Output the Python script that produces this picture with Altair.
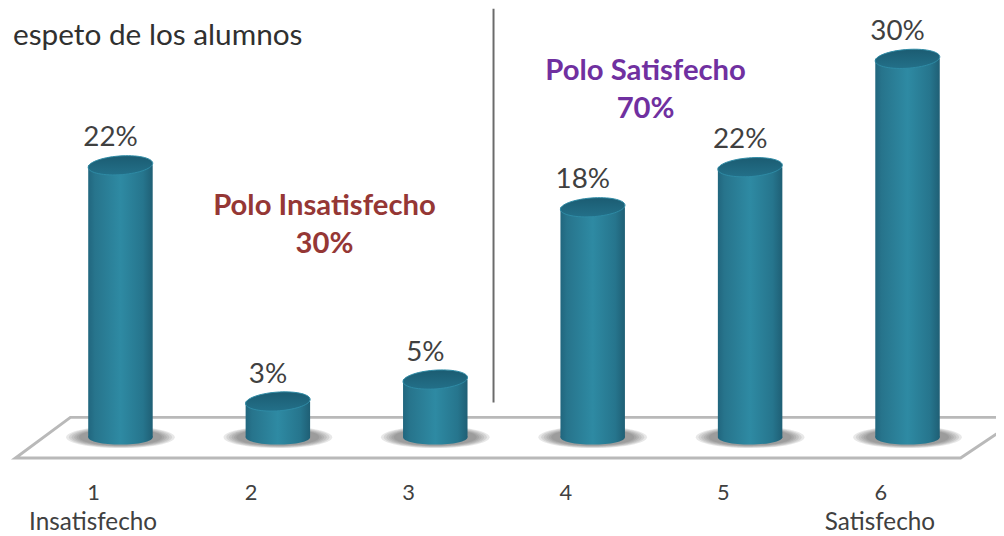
import altair as alt
import pandas as pd

# Data
categories = [1, 2, 3, 4, 5, 6]
bar_heights = [21.7, 2.85, 4.6, 18.35, 21.55, 30.2]
bar_labels = ["22%", "3%", "5%", "18%", "22%", "30%"]
tick_labels = ["1", "2", "3", "4", "5", "6"]
tick_pos = [0.83, 1.83, 2.83, 3.83, 4.83, 5.83]
pole_names = ["Insatisfecho", "Satisfecho"]
pole_pos = [0.826, 5.825]
pole_y = [-6.85, -6.85]
floor_x = [6.66, 0.682, 0.333, 6.337, 6.66]
floor_y = [1.58, 1.58, -1.66, -1.66, 1.05]
floor_order = [0, 1, 2, 3, 4]
divider_x = [3.37]
divider_y = [34.2]
divider_y2 = [2.77]
notes_red = ["Polo Insatisfecho", "30%"]
notes_red_x = [2.296, 2.296]
notes_red_y = [18.45, 15.45]
notes_purple = ["Polo Satisfecho", "70%"]
notes_purple_x = [4.336, 4.336]
notes_purple_y = [29.2, 26.2]
heading = ["espeto de los alumnos"]
heading_x = [0.3171]
heading_y = [32.0]
shadow_sizes = [12000, 10800, 9700, 8700, 7800, 7000]

FONT = "Lato"
XS = alt.Scale(domain=[0.3171, 6.5306], nice=False, zero=False)
YS = alt.Scale(domain=[-7.72, 34.09], nice=False, zero=False)


def X(f="x"):
    return alt.X(f"{f}:Q", scale=XS, axis=None)


def Y(f="y"):
    return alt.Y(f"{f}:Q", scale=YS, axis=None)


side = alt.LinearGradient(
    gradient="linear", x1=0, x2=1, y1=0, y2=0,
    stops=[
        alt.GradientStop(color="#21667e", offset=0),
        alt.GradientStop(color="#27748c", offset=0.1),
        alt.GradientStop(color="#2e8aa3", offset=0.5),
        alt.GradientStop(color="#26758d", offset=0.85),
        alt.GradientStop(color="#1f5f75", offset=1),
    ],
)
cap = alt.LinearGradient(
    gradient="linear", x1=0, x2=0, y1=0, y2=1,
    stops=[
        alt.GradientStop(color="#1b5c72", offset=0),
        alt.GradientStop(color="#237089", offset=1),
    ],
)

bars = pd.DataFrame({"x": categories, "h": bar_heights, "label": bar_labels, "zero": [0] * 6})

floor = alt.Chart(pd.DataFrame({"x": floor_x, "y": floor_y, "o": floor_order})).mark_line(
    color="#b9b9b9", strokeWidth=3, strokeJoin="miter"
).encode(x=X(), y=Y(), order="o:Q")

shadows = [
    alt.Chart(bars).mark_point(
        shape="M-1,0 A1,0.2 0 1 0 1,0 A1,0.2 0 1 0 -1,0 Z",
        size=s, filled=True, fill="#5a5a5a", opacity=0.14, strokeWidth=0,
    ).encode(x=X(), y=Y("zero"))
    for s in shadow_sizes
]

bottom = alt.Chart(bars).mark_point(
    shape="M-1,0 A1,0.23 0 1 0 1,0 A1,0.23 0 1 0 -1,0 Z", size=4225, filled=True, fill=side, opacity=1, strokeWidth=0
).encode(x=X(), y=Y("zero"))

body = alt.Chart(bars).mark_bar(size=65, fill=side).encode(x=X(), y=Y("h"), y2="zero:Q")

top = alt.Chart(bars).mark_point(
    shape="M-1,0.05 A1,0.29 -4 1 1 1,-0.05 A1,0.29 -4 1 1 -1,0.05 Z", size=4225, filled=True, fill=cap, opacity=1,
    stroke="#2f8ba5", strokeWidth=1,
).encode(x=X(), y=Y("h"))

values = alt.Chart(bars).mark_text(font=FONT, fontSize=28, color="#404040", dy=-27, dx=-10).encode(
    x=X(), y=Y("h"), text="label:N"
)

ticks = alt.Chart(pd.DataFrame({"x": tick_pos, "y": [-4.5] * 6, "t": tick_labels})).mark_text(
    font=FONT, fontSize=22, color="#404040"
).encode(x=X(), y=Y(), text="t:N")

poles = alt.Chart(pd.DataFrame({"x": pole_pos, "y": pole_y, "t": pole_names})).mark_text(
    font=FONT, fontSize=24.5, color="#404040"
).encode(x=X(), y=Y(), text="t:N")

divider = alt.Chart(pd.DataFrame({"x": divider_x, "y": divider_y, "y2": divider_y2})).mark_rule(
    color="#6b6b6b", strokeWidth=2
).encode(x=X(), y=Y(), y2="y2:Q")

red = alt.Chart(pd.DataFrame({"x": notes_red_x, "y": notes_red_y, "t": notes_red})).mark_text(
    font=FONT, fontSize=29.5, fontWeight="bold", color="#953735"
).encode(x=X(), y=Y(), text="t:N")

purple = alt.Chart(pd.DataFrame({"x": notes_purple_x, "y": notes_purple_y, "t": notes_purple})).mark_text(
    font=FONT, fontSize=29.5, fontWeight="bold", color="#7030a0"
).encode(x=X(), y=Y(), text="t:N")

title = alt.Chart(pd.DataFrame({"x": heading_x, "y": heading_y, "t": heading})).mark_text(
    font=FONT, fontSize=30, color="#303030", align="left"
).encode(x=X(), y=Y(), text="t:N")

chart = (
    alt.layer(floor, *shadows, bottom, body, top, values, ticks, poles, divider, red, purple, title)
    .properties(width=996, height=528, padding=0, autosize=alt.AutoSizeParams(type="none"), background="white")
    .configure_view(stroke=None)
)

chart.save("out.html", embed_options={"renderer": "svg", "actions": False})
